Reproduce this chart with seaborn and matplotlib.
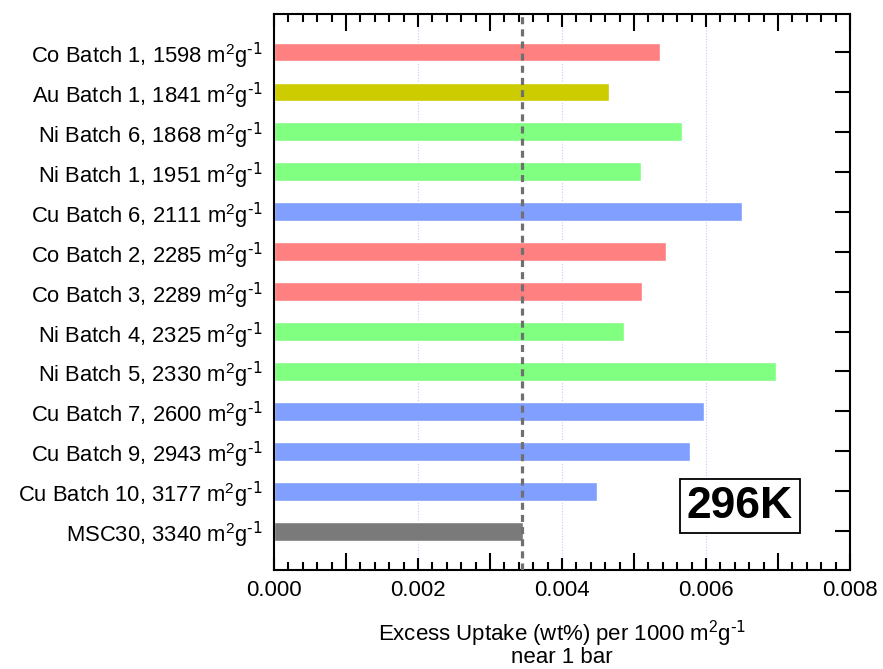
import numpy as np
import pandas as pd
import seaborn as sns
import matplotlib.pyplot as plt
from matplotlib.ticker import MultipleLocator, FuncFormatter

samples = ['Co Batch 1', 'Au Batch 1', 'Ni Batch 6', 'Ni Batch 1', 'Cu Batch 6',
           'Co Batch 2', 'Co Batch 3', 'Ni Batch 4', 'Ni Batch 5', 'Cu Batch 7',
           'Cu Batch 9', 'Cu Batch 10', 'MSC30']
surface_area = [1598, 1841, 1868, 1951, 2111, 2285, 2289, 2325, 2330, 2600, 2943, 3177, 3340]
uptake = [0.00536, 0.00465, 0.00567, 0.00510, 0.00650, 0.00544, 0.00511,
          0.00486, 0.00697, 0.00597, 0.00578, 0.00449, 0.00346]
metal = ['Co', 'Au', 'Ni', 'Ni', 'Cu', 'Co', 'Co', 'Ni', 'Ni', 'Cu', 'Cu', 'Cu', 'MSC30']
msc30_ref = 0.00345

metal_colors = {'Co': '#ff8080', 'Au': '#cccc00', 'Ni': '#80ff80',
                'Cu': '#809fff', 'MSC30': '#7a7a7a'}

sns.set_style('white')
plt.rcParams['font.family'] = ['Liberation Sans', 'DejaVu Sans']
plt.rcParams['mathtext.default'] = 'regular'
plt.rcParams['text.color'] = 'black'
plt.rcParams['xtick.color'] = 'black'
plt.rcParams['ytick.color'] = 'black'
plt.rcParams['axes.labelcolor'] = 'black'

unit = r'm$^2$g$^{\text{-1}}$'
labels = [f'{s}, {a} {unit}' for s, a in zip(samples, surface_area)]
df = pd.DataFrame({'label': labels, 'uptake': uptake, 'metal': metal})

fig = plt.figure(figsize=(8.83, 6.69), dpi=100)
ax = fig.add_axes([0.3103, 0.148, 0.6523, 0.831])

sns.barplot(data=df, y='label', x='uptake', hue='metal', palette=metal_colors,
            orient='h', width=0.47, dodge=False, legend=False, saturation=1, ax=ax)

for gx in [0.002, 0.004, 0.006]:
    ax.axvline(gx, color='#c8c8ff', lw=0.8, ls=(0, (1, 1.5)), zorder=0)
ax.axvline(msc30_ref, color='#707070', lw=2.3, ls=(0, (2.2, 1.6)), zorder=3)

ax.set_xlim(0, 0.008)
ax.set_ylim(12.97, -0.95)
ax.xaxis.set_major_locator(MultipleLocator(0.001))
ax.xaxis.set_minor_locator(MultipleLocator(0.0002))
ax.xaxis.set_major_formatter(FuncFormatter(
    lambda v, _: f'{v:.3f}' if round(v / 0.001) % 2 == 0 else ''))
ax.tick_params(axis='x', which='major', direction='in', length=12, width=1.5,
               top=True, bottom=True, labelsize=16, pad=7)
ax.tick_params(axis='x', which='minor', direction='in', length=6, width=1.5,
               top=True, bottom=True)
# labelled ticks (every 0.002) are longer than the in-between 0.001 ones
for t in ax.xaxis.get_major_ticks():
    size = 12 if round(t.get_loc() / 0.001) % 2 == 0 else 9
    t.tick1line.set_markersize(size)
    t.tick2line.set_markersize(size)

ax.tick_params(axis='y', left=False, right=True, labelleft=True, direction='in',
               length=11, width=1.5, labelsize=15.8, pad=8)

for sp in ax.spines.values():
    sp.set_linewidth(1.5)
    sp.set_color('black')

ax.set_ylabel('')
ax.set_xlabel(f'Excess Uptake (wt%) per 1000 {unit}\nnear 1 bar',
              fontsize=16, labelpad=13, linespacing=0.88)

ax.text(0.809, 0.115, '296K', transform=ax.transAxes, ha='center', va='center',
        fontsize=32, fontweight='bold',
        bbox=dict(boxstyle='square,pad=0.15', fc='white', ec='black', lw=1.3))

fig.savefig('out.png', dpi=100)
